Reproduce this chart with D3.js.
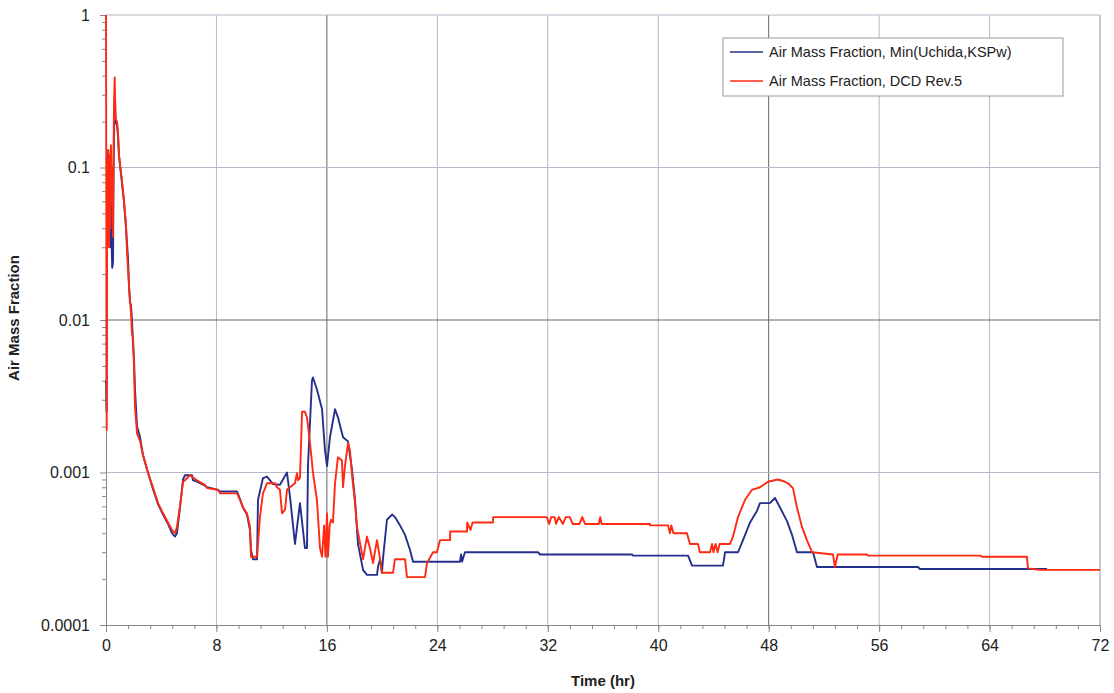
<!DOCTYPE html>
<html>
<head>
<meta charset="utf-8">
<script src="https://cdn.jsdelivr.net/npm/d3@7"></script>
<style>
  body { margin: 0; background: #fff; }
  text { font-family: "Liberation Sans", Arial, sans-serif; fill: #222; }
</style>
</head>
<body>
<svg width="1114" height="693"></svg>
<script>
// series names (legend order)
var seriesNames = ["Air Mass Fraction, Min(Uchida,KSPw)", "Air Mass Fraction, DCD Rev.5"];

// [time (hr), air mass fraction]
var minUchida = [
  [0,0.004],[0.04,0.0025],[0.08,0.12],[0.12,0.05],[0.16,0.13],[0.2,0.04],[0.25,0.12],[0.3,0.03],
  [0.35,0.1],[0.4,0.035],[0.45,0.022],[0.51,0.024],[0.55,0.1],[0.6,0.2],[0.65,0.3],[0.7,0.2],
  [0.8,0.19],[0.87,0.16],[0.94,0.12],[1.09,0.09],[1.3,0.06],[1.45,0.04],[1.6,0.025],[1.67,0.0165],
  [1.74,0.013],[1.81,0.0125],[1.88,0.01],[1.96,0.0069],[2.03,0.0055],[2.1,0.0035],[2.25,0.002],
  [2.47,0.0017],[2.68,0.0013],[3.04,0.001],[3.4,0.00078],[3.77,0.00062],[4.13,0.00053],[4.49,0.00046],
  [4.78,0.0004],[5.0,0.00038],[5.14,0.0004],[5.36,0.00059],[5.58,0.0009],[5.72,0.00096],[6.23,0.00096],
  [6.3,0.00089],[6.59,0.00087],[7.17,0.00082],[7.32,0.0008],[8.11,0.00077],[8.26,0.00075],[9.49,0.00075],
  [9.71,0.00067],[9.92,0.00059],[10.21,0.00053],[10.43,0.00042],[10.5,0.00031],[10.65,0.00027],
  [10.94,0.00027],[11.01,0.00066],[11.37,0.00092],[11.66,0.00094],[12.1,0.00084],[12.6,0.00083],
  [13.11,0.001],[13.33,0.00069],[13.69,0.00034],[14.05,0.00063],[14.41,0.00032],[14.56,0.00032],
  [14.63,0.0011],[14.92,0.004],[14.99,0.0042],[15.28,0.0035],[15.65,0.0026],[15.86,0.0014],[16.01,0.0011],
  [16.22,0.0017],[16.59,0.0026],[16.8,0.0023],[17.17,0.0017],[17.53,0.0016],[17.82,0.00104],[18.04,0.00066],
  [18.25,0.00034],[18.62,0.00023],[18.9,0.000213],[19.63,0.000213],[19.7,0.00024],[19.85,0.00027],
  [19.99,0.00022],[20.06,0.00027],[20.35,0.00049],[20.72,0.00053],[20.93,0.00051],[21.3,0.00045],
  [21.66,0.00039],[22.02,0.00031],[22.24,0.00026],[25.64,0.00026],[25.72,0.00029],[25.79,0.00026],
  [26.0,0.0003],[31.29,0.0003],[31.44,0.00029],[38.1,0.00029],[38.17,0.000285],[42.16,0.000285],
  [42.45,0.000245],[44.69,0.000245],[44.84,0.0003],[45.78,0.0003],[46.14,0.00036],[46.65,0.00047],
  [47.15,0.00056],[47.37,0.00063],[48.09,0.00063],[48.46,0.00068],[48.82,0.00059],[49.33,0.00048],
  [49.69,0.00039],[50.05,0.0003],[51.21,0.0003],[51.5,0.00024],[58.81,0.00024],[58.96,0.000233],
  [68.16,0.000233]
];

var dcdRev5 = [
  [0,1.0],[0.05,0.0019],[0.09,0.11],[0.14,0.05],[0.18,0.13],[0.22,0.03],[0.27,0.12],[0.31,0.04],
  [0.36,0.14],[0.4,0.06],[0.45,0.1],[0.5,0.035],[0.55,0.13],[0.58,0.26],[0.63,0.39],[0.68,0.21],
  [0.8,0.2],[0.87,0.17],[0.94,0.12],[1.09,0.092],[1.2,0.075],[1.3,0.061],[1.45,0.042],[1.52,0.028],
  [1.67,0.0165],[1.74,0.0135],[1.81,0.0111],[1.88,0.0082],[1.96,0.0077],[2.03,0.0049],[2.1,0.0027],
  [2.25,0.0018],[2.47,0.0016],[2.68,0.0013],[3.04,0.001],[3.4,0.0008],[3.77,0.00063],[4.13,0.00054],
  [4.49,0.00047],[4.78,0.00042],[5.0,0.0004],[5.14,0.00044],[5.36,0.0006],[5.58,0.00087],[5.72,0.00089],
  [6.08,0.00096],[6.59,0.00089],[7.17,0.00083],[7.32,0.00079],[8.11,0.00077],[8.26,0.00073],[9.49,0.00073],
  [9.71,0.00066],[9.92,0.00059],[10.21,0.00054],[10.43,0.00044],[10.5,0.00028],[10.94,0.00028],
  [11.15,0.00051],[11.37,0.00073],[11.66,0.00085],[12.24,0.00085],[12.39,0.0008],[12.6,0.00077],
  [12.75,0.00054],[12.97,0.00057],[13.11,0.00077],[13.69,0.00085],[13.83,0.00099],[13.91,0.00089],
  [14.05,0.00092],[14.2,0.0025],[14.41,0.0025],[14.56,0.0023],[14.78,0.00156],[14.99,0.001],
  [15.28,0.00066],[15.5,0.00032],[15.65,0.00028],[15.8,0.00045],[15.9,0.00028],[16.01,0.00054],
  [16.08,0.00028],[16.2,0.00045],[16.3,0.00049],[16.44,0.00047],[16.59,0.00085],[16.8,0.00126],
  [17.09,0.0012],[17.17,0.0008],[17.31,0.0011],[17.53,0.00156],[17.67,0.0014],[17.82,0.00096],
  [18.04,0.00063],[18.18,0.00044],[18.62,0.00027],[18.9,0.00038],[19.12,0.00032],[19.34,0.000255],
  [19.63,0.00036],[19.85,0.00027],[19.99,0.00022],[20.79,0.00022],[20.93,0.00027],[21.66,0.00027],
  [21.8,0.000206],[23.11,0.000206],[23.25,0.000255],[23.69,0.0003],[23.97,0.0003],[24.19,0.00036],
  [24.92,0.00036],[24.93,0.00041],[26.15,0.00041],[26.16,0.00047],[26.4,0.00042],[26.55,0.00047],
  [28.03,0.00047],[28.04,0.00051],[31.94,0.00051],[32.1,0.00046],[32.25,0.00051],[32.5,0.00051],
  [32.6,0.00046],[32.8,0.00051],[33.1,0.00046],[33.3,0.00051],[33.6,0.00051],[33.8,0.00046],
  [34.3,0.00046],[34.5,0.00051],[34.7,0.00046],[35.7,0.00046],[35.8,0.00051],[35.9,0.00046],
  [39.4,0.00046],[39.41,0.00045],[40.71,0.00045],[40.85,0.0004],[40.95,0.00045],[41.1,0.0004],
  [42.08,0.0004],[42.3,0.00034],[42.88,0.00034],[43.02,0.0003],[43.75,0.0003],[43.9,0.00034],
  [44.0,0.0003],[44.15,0.00034],[44.3,0.0003],[44.45,0.00034],[45.2,0.00034],[45.42,0.00038],
  [45.78,0.00051],[46.28,0.00066],[46.79,0.00077],[47.37,0.0008],[47.95,0.00087],[48.67,0.0009],
  [49.04,0.00088],[49.4,0.00085],[49.76,0.00079],[50.05,0.00059],[50.41,0.00044],[50.77,0.00036],
  [51.14,0.0003],[52.66,0.00029],[52.8,0.00024],[53.0,0.00029],[55.12,0.00029],[55.2,0.000285],
  [63.31,0.000285],[63.45,0.00028],[66.71,0.00028],[66.78,0.000235],[67.65,0.00023],[72,0.00023]
];

var xTicks = [0, 8, 16, 24, 32, 40, 48, 56, 64, 72];
var yTicks = [0.0001, 0.001, 0.01, 0.1, 1];
var yTickLabels = ["0.0001", "0.001", "0.01", "0.1", "1"];
var darkX = [16, 48];
var darkY = [0.01];

var colors = ["#25308a", "#ff2a12"];

var svg = d3.select("svg");

var x = d3.scaleLinear().domain([0, 72]).range([106, 1100]);
var y = d3.scaleLog().domain([0.0001, 1]).range([625, 15]);

// grid
var grid = svg.append("g");
grid.selectAll("line.gx")
  .data(xTicks.slice(1))
  .enter().append("line")
  .attr("x1", function(d) { return x(d); })
  .attr("x2", function(d) { return x(d); })
  .attr("y1", y(1)).attr("y2", y(0.0001))
  .attr("stroke", function(d) { return darkX.indexOf(d) >= 0 ? "#666" : "#b4b8c8"; })
  .attr("stroke-width", 1);

grid.selectAll("line.gy")
  .data(yTicks.slice(1))
  .enter().append("line")
  .attr("x1", x(0)).attr("x2", x(72))
  .attr("y1", function(d) { return y(d); })
  .attr("y2", function(d) { return y(d); })
  .attr("stroke", function(d) { return darkY.indexOf(d) >= 0 ? "#666" : "#b4b8c8"; })
  .attr("stroke-width", 1);

// minor ticks on the y axis (2..9 within each decade)
var minorY = [];
yTicks.slice(0, -1).forEach(function(d) {
  for (var k = 2; k < 10; k++) minorY.push(d * k);
});

var xAxis = d3.axisBottom(x).tickValues(xTicks).tickSize(7).tickPadding(8).tickFormat(d3.format("d"));
var xMinor = d3.axisBottom(x).tickValues(d3.range(0, 72.01, 1.6)).tickSize(4).tickFormat("");
var yAxis = d3.axisLeft(y).tickValues(yTicks).tickSize(6).tickPadding(10)
  .tickFormat(function(d, i) { return yTickLabels[i]; });
var yMinor = d3.axisLeft(y).tickValues(minorY).tickSize(4).tickFormat("");

function styleAxis(g) {
  g.select(".domain").attr("stroke", "#888");
  g.selectAll(".tick line").attr("stroke", "#888");
  g.selectAll(".tick text").style("font-size", "16px").attr("fill", "#222");
}

svg.append("g").attr("transform", "translate(0,625)").call(xMinor).call(styleAxis);
svg.append("g").attr("transform", "translate(0,625)").call(xAxis).call(styleAxis);
svg.append("g").attr("transform", "translate(106,0)").call(yMinor).call(styleAxis);
svg.append("g").attr("transform", "translate(106,0)").call(yAxis).call(styleAxis);

// right border
svg.append("line")
  .attr("x1", x(72)).attr("x2", x(72)).attr("y1", y(1)).attr("y2", y(0.0001))
  .attr("stroke", "#b4b8c8");

// series
var line = d3.line()
  .x(function(d) { return x(d[0]); })
  .y(function(d) { return y(d[1]); });

[minUchida, dcdRev5].forEach(function(s, i) {
  svg.append("path")
    .datum(s)
    .attr("fill", "none")
    .attr("stroke", colors[i])
    .attr("stroke-width", 1.9)
    .attr("stroke-linejoin", "round")
    .attr("d", line);
});

// axis titles
svg.append("text")
  .attr("x", 603).attr("y", 686)
  .attr("text-anchor", "middle")
  .style("font-size", "15px").style("font-weight", "bold")
  .text("Time (hr)");

svg.append("text")
  .attr("transform", "translate(19,318) rotate(-90)")
  .attr("text-anchor", "middle")
  .style("font-size", "15px").style("font-weight", "bold")
  .text("Air Mass Fraction");

// legend
var legend = svg.append("g").attr("transform", "translate(723,38)");
legend.append("rect")
  .attr("width", 340).attr("height", 58)
  .attr("fill", "#fff").attr("stroke", "#999");

seriesNames.forEach(function(name, i) {
  var row = legend.append("g").attr("transform", "translate(0," + (14 + i * 29) + ")");
  row.append("line")
    .attr("x1", 7).attr("x2", 40).attr("y1", 0).attr("y2", 0)
    .attr("stroke", colors[i]).attr("stroke-width", 1.5);
  row.append("text")
    .attr("x", 46).attr("y", 5)
    .style("font-size", "14.5px")
    .text(name);
});
</script>
</body>
</html>
